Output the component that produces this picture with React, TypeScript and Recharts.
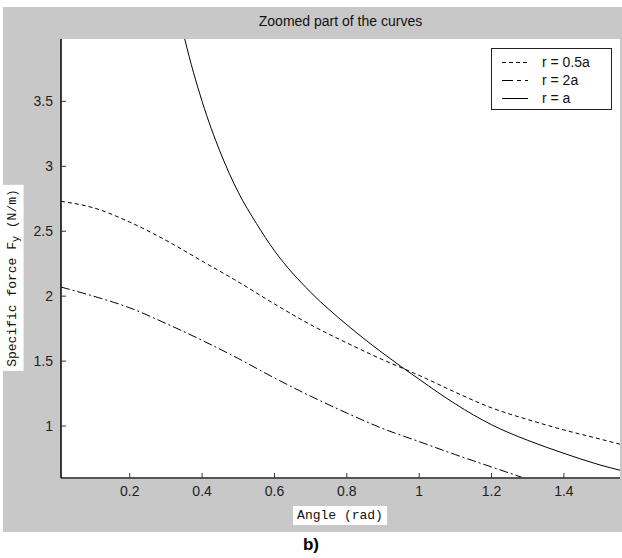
import React from "react";
import { LineChart, Line, XAxis, YAxis } from "recharts";

// Angle samples (rad) and specific force values (N/m) for each radius
const angleHalf = [0.01, 0.1, 0.2, 0.3, 0.4, 0.5, 0.6, 0.7, 0.8, 0.9, 1.0, 1.1, 1.2, 1.3, 1.4, 1.5, 1.555];
const forceHalf = [2.73, 2.68, 2.57, 2.43, 2.27, 2.11, 1.94, 1.78, 1.64, 1.51, 1.39, 1.26, 1.14, 1.05, 0.97, 0.9, 0.86];

const angleDouble = [0.01, 0.1, 0.2, 0.3, 0.4, 0.5, 0.6, 0.7, 0.8, 0.9, 1.0, 1.1, 1.2, 1.3];
const forceDouble = [2.07, 2.0, 1.91, 1.79, 1.66, 1.52, 1.37, 1.23, 1.1, 0.98, 0.88, 0.78, 0.685, 0.59];

const angleUnit = [0.3, 0.352, 0.4, 0.45, 0.5, 0.55, 0.6, 0.7, 0.8, 0.9, 1.0, 1.1, 1.2, 1.3, 1.4, 1.5, 1.555];
const forceUnit = [4.67, 3.98, 3.5, 3.11, 2.8, 2.56, 2.35, 2.03, 1.78, 1.56, 1.36, 1.17, 1.01, 0.89, 0.79, 0.7, 0.66];

const xTicks = [0.2, 0.4, 0.6, 0.8, 1, 1.2, 1.4];
const yTicks = [1, 1.5, 2, 2.5, 3, 3.5];

const seriesNames = ["r = 0.5a", "r = 2a", "r = a"];
const seriesDash = ["4 3", "9 3 2 3", undefined];

const toPoints = (xs: number[], ys: number[]) => xs.map((x, i) => ({ angle: x, force: ys[i] }));

const halfData = toPoints(angleHalf, forceHalf);
const doubleData = toPoints(angleDouble, forceDouble);
const unitData = toPoints(angleUnit, forceUnit);

const sans = "Liberation Sans, Arial, sans-serif";
const mono = "Liberation Mono, Courier New, monospace";
const tickFont = { fontFamily: sans, fontSize: 14, fill: "#222" };

function LegendBox() {
  const legendDash = ["4 3", "11 4 4 4", undefined];
  return (
    <div
      style={{
        position: "absolute",
        left: 491,
        top: 48,
        width: 121,
        height: 62,
        boxSizing: "border-box",
        border: "1px solid #222",
        background: "#fff",
        padding: "4px 0 0 10px",
        fontFamily: sans,
        fontSize: 14,
        color: "#111",
        lineHeight: "18px",
      }}
    >
      {seriesNames.map((name, i) => (
        <div key={name} style={{ display: "flex", alignItems: "center", height: 18 }}>
          <svg width={27} height={18} style={{ marginRight: 13 }}>
            <line x1={0} y1={9.5} x2={26} y2={9.5} stroke="#000" strokeWidth={1} strokeDasharray={legendDash[i]} />
          </svg>
          <span>{name}</span>
        </div>
      ))}
    </div>
  );
}

export default function App() {
  return (
    <div style={{ position: "absolute", left: 0, top: 0, width: 622, height: 558, background: "#fff" }}>
      <div style={{ position: "absolute", left: 3, top: 7, width: 619, height: 525, background: "#c8c8c8" }} />
      <div
        style={{
          position: "absolute",
          left: 0,
          width: 681,
          top: 13,
          textAlign: "center",
          fontFamily: sans,
          fontSize: 14,
          color: "#111",
        }}
      >
        Zoomed part of the curves
      </div>
      <div style={{ position: "absolute", left: 0, top: 0 }}>
        <LineChart width={622} height={558} margin={{ top: 39, right: 2, left: 0, bottom: 0 }}>
          <rect x={61} y={39} width={559} height={439} fill="#fff" />
          <XAxis
            dataKey="angle"
            type="number"
            domain={[0.01, 1.555]}
            ticks={xTicks}
            allowDataOverflow
            height={80}
            tickSize={-5}
            tickMargin={13}
            stroke="#555"
            tick={tickFont}
            axisLine={{ stroke: "#555", strokeWidth: 2 }}
            tickLine={{ stroke: "#333" }}
          />
          <YAxis
            type="number"
            domain={[0.6, 3.98]}
            ticks={yTicks}
            allowDataOverflow
            width={61}
            tickSize={-5}
            tickMargin={13}
            tick={tickFont}
            axisLine={{ stroke: "#000", strokeWidth: 1.5 }}
            tickLine={{ stroke: "#333" }}
          />
          <Line
            data={halfData}
            dataKey="force"
            name={seriesNames[0]}
            stroke="#000"
            strokeWidth={1}
            strokeDasharray={seriesDash[0]}
            dot={false}
            type="monotone"
            isAnimationActive={false}
          />
          <Line
            data={doubleData}
            dataKey="force"
            name={seriesNames[1]}
            stroke="#000"
            strokeWidth={1}
            strokeDasharray={seriesDash[1]}
            dot={false}
            type="monotone"
            isAnimationActive={false}
          />
          <Line
            data={unitData}
            dataKey="force"
            name={seriesNames[2]}
            stroke="#000"
            strokeWidth={1}
            dot={false}
            type="monotone"
            isAnimationActive={false}
          />
        </LineChart>
      </div>
      <LegendBox />
      <div
        style={{
          position: "absolute",
          left: 3,
          top: 278,
          transform: "translate(0, -50%) rotate(180deg)",
          writingMode: "vertical-rl",
          background: "#fff",
          padding: "4px 2px",
          fontFamily: mono,
          fontSize: 13,
          color: "#111",
          whiteSpace: "nowrap",
        }}
      >
        Specific force F<sub style={{ fontSize: 10 }}>y</sub> (N/m)
      </div>
      <div
        style={{
          position: "absolute",
          left: 340,
          top: 506,
          transform: "translate(-50%, 0)",
          background: "#fff",
          padding: "2px 4px",
          fontFamily: mono,
          fontSize: 13,
          color: "#111",
          whiteSpace: "nowrap",
        }}
      >
        Angle (rad)
      </div>
      <div
        style={{
          position: "absolute",
          left: 0,
          width: 622,
          top: 535,
          textAlign: "center",
          fontFamily: sans,
          fontWeight: "bold",
          fontSize: 17,
          color: "#000",
        }}
      >
        b)
      </div>
    </div>
  );
}
